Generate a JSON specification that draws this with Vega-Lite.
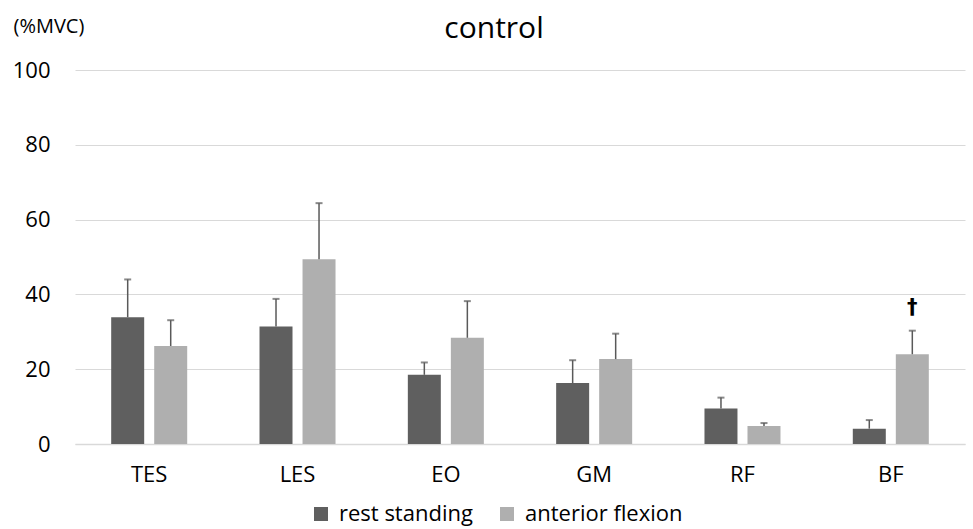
{
  "$schema": "https://vega.github.io/schema/vega-lite/v6.json",
  "autosize": {"type": "none"},
  "width": 890,
  "height": 374,
  "padding": {"left": 75, "top": 70, "right": 8, "bottom": 85},
  "background": "white",
  "title": {"text": "control", "fontSize": 30, "fontWeight": "normal", "font": "Open Sans", "color": "#000000", "anchor": "middle", "offset": -28, "dx": -26},
  "data": {
    "values": [
      {"muscle": "TES", "condition": "rest standing", "value": 33.9, "upper": 44.0, "mark": ""},
      {"muscle": "TES", "condition": "anterior flexion", "value": 26.2, "upper": 33.1, "mark": ""},
      {"muscle": "LES", "condition": "rest standing", "value": 31.4, "upper": 38.8, "mark": ""},
      {"muscle": "LES", "condition": "anterior flexion", "value": 49.4, "upper": 64.4, "mark": ""},
      {"muscle": "EO", "condition": "rest standing", "value": 18.5, "upper": 21.8, "mark": ""},
      {"muscle": "EO", "condition": "anterior flexion", "value": 28.4, "upper": 38.2, "mark": ""},
      {"muscle": "GM", "condition": "rest standing", "value": 16.3, "upper": 22.4, "mark": ""},
      {"muscle": "GM", "condition": "anterior flexion", "value": 22.7, "upper": 29.5, "mark": ""},
      {"muscle": "RF", "condition": "rest standing", "value": 9.5, "upper": 12.4, "mark": ""},
      {"muscle": "RF", "condition": "anterior flexion", "value": 4.8, "upper": 5.6, "mark": ""},
      {"muscle": "BF", "condition": "rest standing", "value": 4.1, "upper": 6.4, "mark": ""},
      {"muscle": "BF", "condition": "anterior flexion", "value": 24.0, "upper": 30.3, "mark": "†"}
    ]
  },
  "encoding": {
    "x": {
      "field": "muscle", "type": "nominal",
      "sort": ["TES", "LES", "EO", "GM", "RF", "BF"],
      "scale": {"paddingInner": 0.4875, "paddingOuter": 0.244},
      "axis": {"title": null, "labelAngle": 0, "labelFontSize": 22, "labelFont": "Open Sans", "labelColor": "#000000", "labelPadding": 20, "ticks": false, "domainColor": "#d9d9d9", "domainWidth": 1.5}
    },
    "xOffset": {
      "field": "condition", "type": "nominal",
      "sort": ["rest standing", "anterior flexion"],
      "scale": {"paddingInner": 0.233, "paddingOuter": 0}
    }
  },
  "layer": [
    {
      "mark": {"type": "bar"},
      "encoding": {
        "y": {
          "field": "value", "type": "quantitative",
          "scale": {"domain": [0, 100], "nice": false},
          "axis": {
            "values": [0, 20, 40, 60, 80, 100],
            "grid": true, "gridColor": "#d9d9d9", "gridWidth": 1.2,
            "domain": false, "ticks": false,
            "labelFontSize": 22, "labelFont": "Open Sans", "labelColor": "#000000", "labelPadding": 25,
            "title": "(%MVC)", "titleAngle": 0, "titleX": -62, "titleY": -44, "titleAlign": "left", "titleBaseline": "middle",
            "titleFontSize": 20, "titleFontWeight": "normal", "titleFont": "Open Sans", "titleColor": "#000000"
          }
        },
        "color": {
          "field": "condition", "type": "nominal",
          "scale": {"domain": ["rest standing", "anterior flexion"], "range": ["#5f5f5f", "#afafaf"]},
          "legend": {
            "title": null, "orient": "none", "direction": "horizontal", "legendX": 235, "legendY": 433,
            "symbolType": "square", "symbolSize": 196, "symbolStrokeWidth": 0,
            "labelFontSize": 22, "labelFont": "Open Sans", "labelColor": "#000000",
            "columnPadding": 23, "labelOffset": 7
          }
        }
      }
    },
    {
      "mark": {"type": "rule", "color": "#595959", "strokeWidth": 1.5},
      "encoding": {
        "y": {"field": "value", "type": "quantitative"},
        "y2": {"field": "upper"}
      }
    },
    {
      "mark": {"type": "tick", "color": "#595959", "orient": "horizontal", "size": 7, "thickness": 2},
      "encoding": {
        "y": {"field": "upper", "type": "quantitative"}
      }
    },
    {
      "transform": [{"filter": "datum.mark != ''"}],
      "mark": {"type": "text", "fontSize": 21, "fontWeight": "bold", "font": "DejaVu Sans", "color": "#000000", "baseline": "middle", "dy": -23},
      "encoding": {
        "y": {"field": "upper", "type": "quantitative"},
        "text": {"field": "mark"}
      }
    }
  ],
  "config": {"view": {"stroke": null}}
}
